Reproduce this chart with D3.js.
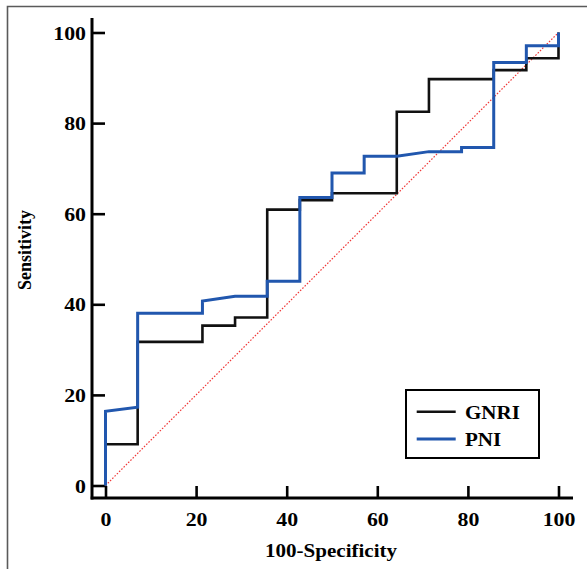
<!DOCTYPE html>
<html>
<head>
<meta charset="utf-8">
<script src="https://cdn.jsdelivr.net/npm/d3@7"></script>
<style>
  body { margin: 0; background: #fff; }
  text { font-family: "Liberation Serif", "Times New Roman", serif; font-weight: bold; fill: #000; }
</style>
</head>
<body>
<svg id="chart" width="587" height="569"></svg>
<script>
// ROC points, 100-specificity (x) and sensitivity (y), in drawing order
var gnriX = [0, 0, 7.1, 7.1, 21.4, 21.4, 28.6, 28.6, 35.7, 35.7, 42.9, 42.9, 50, 50, 64.3, 64.3, 71.4, 71.4, 85.7, 85.7, 92.9, 92.9, 100, 100];
var gnriY = [0, 9.1, 9.1, 31.7, 31.7, 35.3, 35.3, 37.1, 37.1, 60.9, 60.9, 63.0, 63.0, 64.5, 64.5, 82.5, 82.5, 89.7, 89.7, 91.7, 91.7, 94.3, 94.3, 100];

var pniX = [0, 0, 7.1, 7.1, 21.4, 21.4, 28.6, 35.7, 35.7, 42.9, 42.9, 50, 50, 57.1, 57.1, 64.3, 71.4, 78.6, 78.6, 85.7, 85.7, 92.9, 92.9, 100, 100];
var pniY = [0, 16.4, 17.3, 38.0, 38.0, 40.7, 41.8, 41.8, 45.1, 45.1, 63.6, 63.6, 69.0, 69.0, 72.7, 72.7, 73.7, 73.7, 74.6, 74.6, 93.4, 93.4, 97.1, 97.1, 100];

var refLine = [[0, 0], [100, 100]];

var majorTicks = [0, 20, 40, 60, 80, 100];
var seriesNames = ["GNRI", "PNI"];
var seriesColors = ["#111111", "#2157ae"];

var svg = d3.select("#chart");
var stretch = 1.12; // glyphs in the picture are a bit wide

// outer frame (left and top only visible)
svg.append("path")
	.attr("d", "M7.5,569V6.5H587")
	.attr("fill", "none")
	.attr("stroke", "#5a5a5a")
	.attr("stroke-width", 1.6);

var x = d3.scaleLinear().domain([0, 100]).range([105.5, 558.5]);
var y = d3.scaleLinear().domain([0, 100]).range([485.5, 32.5]);

var axisX = 92, axisY = 498;

// x axis
var gx = svg.append("g").attr("transform", "translate(0," + axisY + ")");
gx.call(d3.axisBottom(x).tickValues(d3.range(0, 101, 5)).tickSize(-6).tickFormat(""));
gx.call(d3.axisBottom(x).tickValues(majorTicks).tickSize(-12).tickFormat(d3.format("d")));
gx.selectAll(".domain").remove();
gx.selectAll("line").attr("stroke", "#000").attr("stroke-width", 2.6);
gx.selectAll("text")
	.attr("y", null).attr("dy", null)
	.attr("transform", "translate(0,28) scale(" + stretch + ",1)")
	.attr("font-size", 19.5)
	.attr("text-anchor", "middle")
	.attr("fill", "#000");
gx.append("line")
	.attr("x1", axisX - 1.3).attr("x2", 573).attr("y1", 0).attr("y2", 0)
	.attr("stroke", "#000").attr("stroke-width", 3);

// y axis
var gy = svg.append("g").attr("transform", "translate(" + axisX + ",0)");
gy.call(d3.axisLeft(y).tickValues(d3.range(0, 101, 5)).tickSize(-8).tickFormat(""));
gy.call(d3.axisLeft(y).tickValues(majorTicks).tickSize(-13).tickFormat(d3.format("d")));
gy.selectAll(".domain").remove();
gy.selectAll("line").attr("stroke", "#000").attr("stroke-width", 2.6);
gy.selectAll("text")
	.attr("x", null).attr("dy", "0.34em")
	.attr("transform", "translate(-6,0) scale(" + stretch + ",1)")
	.attr("font-size", 19.5)
	.attr("text-anchor", "end")
	.attr("fill", "#000");
gy.append("line")
	.attr("x1", 0).attr("x2", 0).attr("y1", 18).attr("y2", axisY + 1.5)
	.attr("stroke", "#000").attr("stroke-width", 3);

// axis titles
svg.append("text")
	.attr("transform", "translate(331,557) scale(1.17,1)")
	.attr("text-anchor", "middle")
	.attr("font-size", 18)
	.text("100-Specificity");

svg.append("text")
	.attr("transform", "translate(31,250) rotate(-90) scale(1,1.1)")
	.attr("text-anchor", "middle")
	.attr("font-size", 18)
	.text("Sensitivity");

// reference diagonal
var line = d3.line().x(function(d) { return x(d[0]); }).y(function(d) { return y(d[1]); });

svg.append("path")
	.attr("d", line(refLine))
	.attr("fill", "none")
	.attr("stroke", "#f03a3a")
	.attr("stroke-width", 1.2)
	.attr("stroke-dasharray", "1.6,1.6");

// curves
var curves = [d3.zip(gnriX, gnriY), d3.zip(pniX, pniY)];
var widths = [2.6, 3];

svg.selectAll("path.roc")
	.data(curves)
	.join("path")
	.classed("roc", true)
	.attr("d", line)
	.attr("fill", "none")
	.attr("stroke", function(d, i) { return seriesColors[i]; })
	.attr("stroke-width", function(d, i) { return widths[i]; })
	.attr("stroke-linejoin", "miter");

// legend
var lg = svg.append("g").attr("transform", "translate(406,390)");
lg.append("rect")
	.attr("width", 133).attr("height", 68)
	.attr("fill", "#fff").attr("stroke", "#000").attr("stroke-width", 2);

var items = lg.selectAll("g.item")
	.data(seriesNames)
	.join("g")
	.classed("item", true)
	.attr("transform", function(d, i) { return "translate(0," + (21.7 + i * 27.3) + ")"; });

items.append("line")
	.attr("x1", 10.7).attr("x2", 49.7)
	.attr("stroke", function(d, i) { return seriesColors[i]; })
	.attr("stroke-width", function(d, i) { return widths[i]; });

items.append("text")
	.attr("transform", "translate(59,6.8) scale(1.08,1)")
	.attr("font-size", 19.5)
	.text(function(d) { return d; });
</script>
</body>
</html>
